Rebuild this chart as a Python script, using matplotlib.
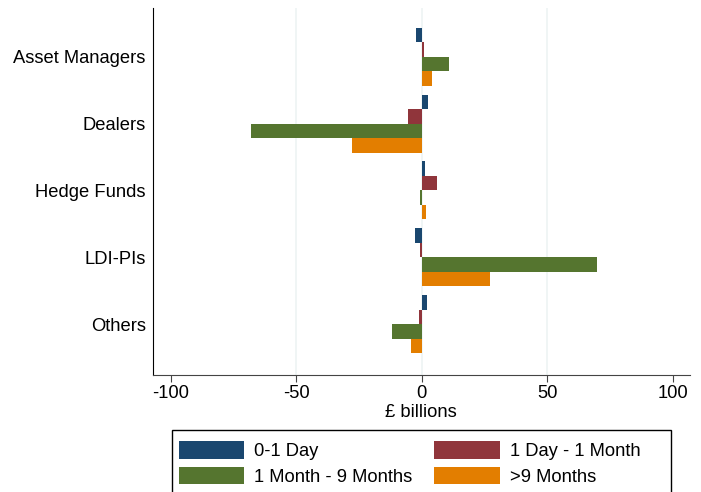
import numpy as np
import matplotlib.pyplot as plt
from matplotlib.patches import Patch, Rectangle

plt.rcParams['font.family'] = ['Liberation Sans', 'DejaVu Sans']

categories = ['Asset Managers', 'Dealers', 'Hedge Funds', 'LDI-PIs', 'Others']
series = ['0-1 Day', '1 Day - 1 Month', '1 Month - 9 Months', '>9 Months']
colors = ['#1a476f', '#90353b', '#55752f', '#e37e00']

day_0_1 = [-2.4, 2.4, 1.2, -2.8, 2.0]
day_1_month_1 = [1.0, -5.6, 6.0, -0.8, -1.2]
month_1_9 = [10.8, -68.0, -0.8, 70.0, -12.0]
month_9_plus = [4.0, -28.0, 1.6, 27.0, -4.4]
values = [day_0_1, day_1_month_1, month_1_9, month_9_plus]

fs = 13.2
W, H = 701, 492

fig = plt.figure(figsize=(W / 100, H / 100), dpi=100)
ax = fig.add_axes([0.218, 0.238, 0.766, 0.746])

y = np.arange(len(categories))
h = 0.217
for i, (vals, c) in enumerate(zip(values, colors)):
    ax.barh(y + (i - 1.5) * h, vals, height=h, color=c, zorder=3)

ax.set_ylim(len(categories) - 1 + 0.76, -0.73)
ax.set_yticks(y)
ax.set_yticklabels(categories, fontsize=fs)
ax.tick_params(axis='y', length=0, pad=5)

ax.set_xlim(-107.2, 106.8)
ax.set_xticks([-100, -50, 0, 50, 100])
ax.set_xticklabels(['-100', '-50', '0', '50', '100'], fontsize=fs)
ax.tick_params(axis='x', length=5, color='#444444', pad=2)
for gx in [-50, 0, 50]:
    ax.axvline(gx, color='#eef4f4', lw=1.2, zorder=1)
ax.set_xlabel('£ billions', fontsize=fs, labelpad=2)

for s in ['top', 'right']:
    ax.spines[s].set_visible(False)
ax.spines['left'].set_color('#000000')
ax.spines['bottom'].set_color('#444444')

# legend: entries without frame, box drawn separately (fixed width like the original)
handles = [Patch(facecolor=c, edgecolor='none') for c in colors]
order = [0, 2, 1, 3]
fig.legend([handles[i] for i in order], [series[i] for i in order],
           ncol=2, loc='upper left', bbox_to_anchor=(179 / W, 1 - 441 / H),
           borderaxespad=0, borderpad=0, frameon=False, fontsize=fs,
           handlelength=3.55, handleheight=1.1, handletextpad=0.55,
           columnspacing=1.2, labelspacing=0.36)
fig.add_artist(Rectangle((172 / W, -0.05), (671 - 172) / W, (1 - 430 / H) + 0.05,
                         transform=fig.transFigure, fill=False,
                         edgecolor='black', lw=1.0))

fig.savefig('out.png', dpi=100)
